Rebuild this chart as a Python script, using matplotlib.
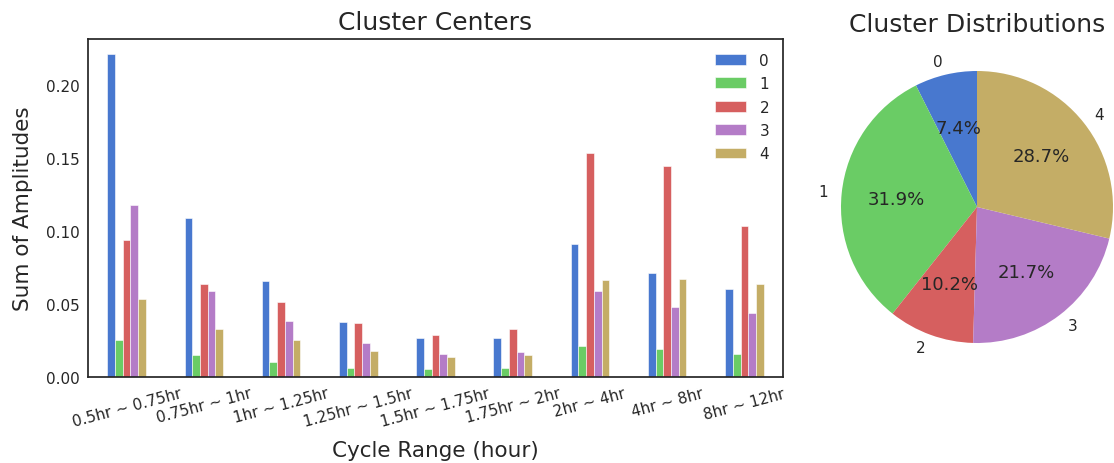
import matplotlib
matplotlib.use("Agg")
import matplotlib.pyplot as plt
import numpy as np

categories = ["0.5hr ~ 0.75hr", "0.75hr ~ 1hr", "1hr ~ 1.25hr", "1.25hr ~ 1.5hr",
              "1.5hr ~ 1.75hr", "1.75hr ~ 2hr", "2hr ~ 4hr", "4hr ~ 8hr", "8hr ~ 12hr"]
cluster_names = ["0", "1", "2", "3", "4"]
c0 = [0.221, 0.109, 0.066, 0.038, 0.027, 0.027, 0.091, 0.0715, 0.060]
c1 = [0.0256, 0.0151, 0.0105, 0.0062, 0.0053, 0.0062, 0.0212, 0.0192, 0.016]
c2 = [0.094, 0.064, 0.0512, 0.0373, 0.029, 0.0331, 0.1537, 0.1443, 0.1034]
c3 = [0.1176, 0.0589, 0.0384, 0.0236, 0.016, 0.0171, 0.0587, 0.048, 0.0438]
c4 = [0.0537, 0.0331, 0.0256, 0.0181, 0.0137, 0.0149, 0.0662, 0.0674, 0.064]
pie_shares = [7.4, 31.9, 10.2, 21.7, 28.7]

colors = ["#4878CF", "#6ACC65", "#D65F5F", "#B47CC7", "#C4AD66"]
txt = "#262626"

plt.rcParams["font.family"] = ["DejaVu Sans"]
fig = plt.figure(figsize=(11.14, 4.64), dpi=100)

ax = fig.add_axes([88/1114, 86/464, 695/1114, 338/464])
series = [c0, c1, c2, c3, c4]
x = np.arange(len(categories))
w = 0.1
for i, (vals, name) in enumerate(zip(series, cluster_names)):
    ax.bar(x - 0.25 + w/2 + i*w, vals, width=w, color=colors[i], label=name,
           edgecolor="white", linewidth=0.4)
ax.set_xlim(-0.5, len(categories) - 0.5)
ax.set_ylim(0, 0.2315)
ax.set_yticks([0, 0.05, 0.10, 0.15, 0.20])
ax.set_yticklabels(["0.00", "0.05", "0.10", "0.15", "0.20"])
ax.set_xticks(x)
ax.set_xticklabels(categories, rotation=15, ha="center")
ax.tick_params(length=0, labelsize=11, colors=txt, pad=6)
for s in ax.spines.values():
    s.set_color(txt)
    s.set_linewidth(1.25)
ax.set_title("Cluster Centers", fontsize=18, color=txt, pad=7)
ax.set_xlabel("Cycle Range (hour)", fontsize=15.5, color=txt, labelpad=8)
ax.set_ylabel("Sum of Amplitudes", fontsize=15.5, color=txt, labelpad=9)
leg = ax.legend(loc="upper right", frameon=False, fontsize=11, handlelength=2.0,
                handleheight=0.7, labelspacing=0.55, handletextpad=0.9)
for t in leg.get_texts():
    t.set_color(txt)

pax = fig.add_axes([807/1114, 86/464, 340/1114, 340/464])
wedges, texts, autotexts = pax.pie(pie_shares, labels=cluster_names, colors=colors,
                                   autopct="%1.1f%%", startangle=90,
                                   textprops={"fontsize": 13, "color": txt})
for t in texts:
    t.set_fontsize(11)
pax.set_title("Cluster Distributions", fontsize=18, color=txt, pad=4)
pax.set_aspect("equal")

fig.savefig("out.png", dpi=100)
